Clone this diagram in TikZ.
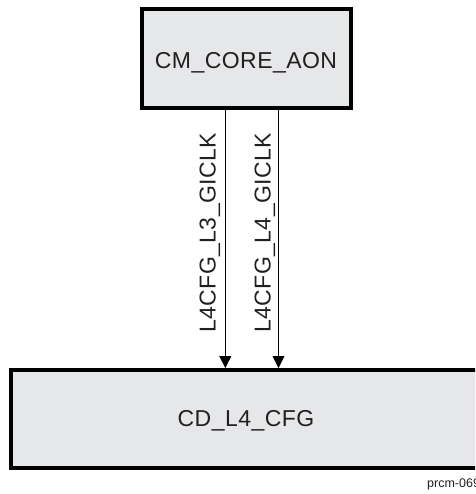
\documentclass[tikz,border=0pt]{standalone}
\usepackage{fontspec}
\setmainfont{Liberation Sans}
\newfontfamily\lblfont[LetterSpace=2]{Liberation Sans}
\usetikzlibrary{arrows.meta}
\definecolor{boxgray}{HTML}{E6E7E8}
\definecolor{ink}{HTML}{231F20}
\begin{document}
\begin{tikzpicture}[x=1pt,y=-1pt,
  blk/.style={draw=black, fill=boxgray, line width=4pt, inner sep=0pt},
  lbl/.style={font=\lblfont\fontsize{23}{27}\selectfont, text=ink, inner sep=0pt, anchor=base},
  sig/.style={draw=black, line width=0.9pt, -{Triangle[length=12pt,width=12pt]}},
  note/.style={font=\fontsize{12.5}{14}\selectfont, text=ink, inner sep=0pt, anchor=base west}
]
\useasboundingbox (0,0) rectangle (475,494);
\clip (0,0) rectangle (475,494);
\node[blk, minimum width=209pt, minimum height=99pt] (core) at (246,58.5) {};
\node[lbl] (coretxt) at (246,68.3) {CM\_CORE\_AON};
\node[blk, minimum width=469.4pt, minimum height=98pt] (cfg) at (246,419) {};
\node[lbl] (cfgtxt) at (246,426) {CD\_L4\_CFG};
\coordinate (a1) at (225.3,200);
\coordinate (a2) at (278.5,200);
\draw[sig] (core.south -| a1) -- (cfg.north -| a1);
\draw[sig] (core.south -| a2) -- (cfg.north -| a2);
\node[lbl, rotate=90] (l3) at (215.7,232.8) {L4CFG\_L3\_GICLK};
\node[lbl, rotate=90] (l4) at (270.5,232.8) {L4CFG\_L4\_GICLK};
\node[note] (fig) at (427,487) {prcm-069};
\end{tikzpicture}
\end{document}
